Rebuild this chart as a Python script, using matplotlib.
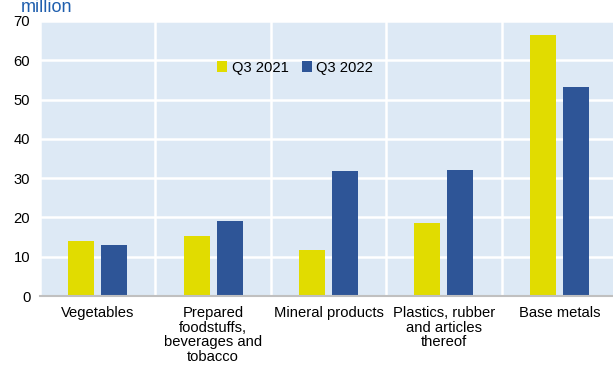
import numpy as np
import matplotlib.pyplot as plt

categories = ["Vegetables", "Prepared\nfoodstuffs,\nbeverages and\ntobacco",
              "Mineral products", "Plastics, rubber\nand articles\nthereof", "Base metals"]
q3_2021 = [14.0, 15.3, 11.6, 18.7, 66.5]
q3_2022 = [13.1, 19.1, 31.8, 32.2, 53.3]
yticks = [0, 10, 20, 30, 40, 50, 60, 70]


def main():
    plt.rcParams["font.family"] = ["Liberation Sans", "DejaVu Sans"]
    fig = plt.figure(figsize=(6.13, 3.68), dpi=100)
    ax = fig.add_axes([40 / 613, 1 - 296 / 368, 577 / 613, 275 / 368])

    x = np.arange(len(categories))
    w = 0.225
    off = 0.143
    ax.bar(x - off, q3_2021, w, color="#E1DC00", label="Q3 2021", zorder=3)
    ax.bar(x + off, q3_2022, w, color="#2E5597", label="Q3 2022", zorder=3)

    ax.set_facecolor("#DDE9F5")
    ax.set_xlim(-0.5, len(categories) - 0.5)
    ax.set_ylim(0, 70)
    ax.set_yticks(yticks)
    ax.set_xticks(x)
    ax.set_xticklabels(categories, fontsize=10.6, va="top", linespacing=1.08)
    ax.set_xticks(np.arange(len(categories) + 1) - 0.5, minor=True)
    ax.tick_params(axis="x", which="both", length=0, pad=7)
    ax.tick_params(axis="y", length=0, labelsize=10.6, pad=7)
    ax.grid(axis="y", color="white", linewidth=1.8, zorder=1)
    ax.grid(axis="x", which="minor", color="white", linewidth=1.8, zorder=1)
    ax.grid(axis="x", which="major", visible=False)
    for s in ["top", "right", "left"]:
        ax.spines[s].set_visible(False)
    ax.spines["bottom"].set_color("#C0C0C0")
    ax.spines["bottom"].set_linewidth(1.5)
    ax.spines["bottom"].set_zorder(4)

    ax.legend(loc="center", bbox_to_anchor=(0.442, 0.83), ncol=2, frameon=False,
              fontsize=10.6, handlelength=0.7, handleheight=0.7, handletextpad=0.3,
              columnspacing=0.9)

    fig.text(21 / 613, 1 - 12 / 368, "million", fontsize=13, color="#1F5FAE",
             va="baseline", ha="left")

    fig.savefig("out.png", dpi=100)


if __name__ == "__main__":
    main()
